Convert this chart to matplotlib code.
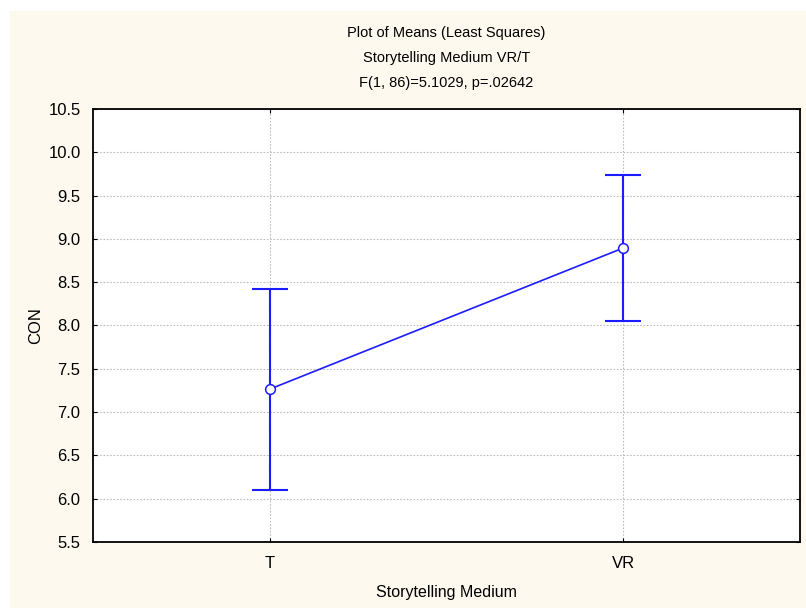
import matplotlib.pyplot as plt
from matplotlib.patches import Rectangle

# group means with lower/upper confidence limits
groups = ["T", "VR"]
means = [7.265, 8.895]
lower = [6.095, 8.055]
upper = [8.425, 9.735]

title_lines = [
    "Plot of Means (Least Squares)",
    "Storytelling Medium VR/T",
    "F(1, 86)=5.1029, p=.02642",
]
y_ticks = [5.5, 6.0, 6.5, 7.0, 7.5, 8.0, 8.5, 9.0, 9.5, 10.0, 10.5]

W, H = 806, 608
cream = "#fef9ee"
blue = "#1c1cff"
plt.rcParams["font.family"] = ["Liberation Sans", "DejaVu Sans"]

fig = plt.figure(figsize=(W / 100, H / 100), dpi=100, facecolor="white")
# cream panel behind everything, white strip on the top and left
fig.patches.append(Rectangle((10 / W, 0), 1 - 10 / W, 1 - 11 / H,
                             transform=fig.transFigure, facecolor=cream,
                             edgecolor="none", zorder=-10))

l, r, t, b = 93, 800, 109, 542
ax = fig.add_axes([l / W, (H - b) / H, (r - l) / W, (b - t) / H])
ax.set_facecolor("white")

x = list(range(len(groups)))
yerr = [[m - lo for m, lo in zip(means, lower)],
        [hi - m for m, hi in zip(means, upper)]]
ax.errorbar(x, means, yerr=yerr, fmt="none", ecolor=blue, elinewidth=1.5,
            capsize=13, capthick=1.5, zorder=3)
ax.plot(x, means, color=blue, linewidth=1.2, marker="o", markersize=7,
        markerfacecolor="white", markeredgecolor=blue, markeredgewidth=1.1,
        zorder=4)

ax.set_xlim(-0.5, 1.5)
ax.set_ylim(5.5, 10.5)
ax.set_xticks(x)
ax.set_xticklabels(groups)
ax.set_yticks(y_ticks)
ax.set_yticklabels([f"{v:.1f}" for v in y_ticks])
ax.grid(True, color="#bdbdbd", linestyle=(0, (1.5, 1.5)), linewidth=0.8)
ax.set_axisbelow(True)
ax.tick_params(direction="in", length=3, width=0.8, labelsize=12,
               top=True, right=True)
ax.tick_params(axis="y", pad=9)
ax.tick_params(axis="x", pad=10)
for s in ax.spines.values():
    s.set_linewidth(1.3)

ax.set_xlabel("Storytelling Medium", fontsize=11.5, labelpad=10)
ax.set_ylabel("CON", fontsize=12, labelpad=4)

cx = (l + r) / 2 / W
for i, line in enumerate(title_lines):
    fig.text(cx, 1 - (33 + 25 * i) / H, line, ha="center", va="center",
             fontsize=10.5)

fig.savefig("out.png", dpi=100, facecolor=fig.get_facecolor())
